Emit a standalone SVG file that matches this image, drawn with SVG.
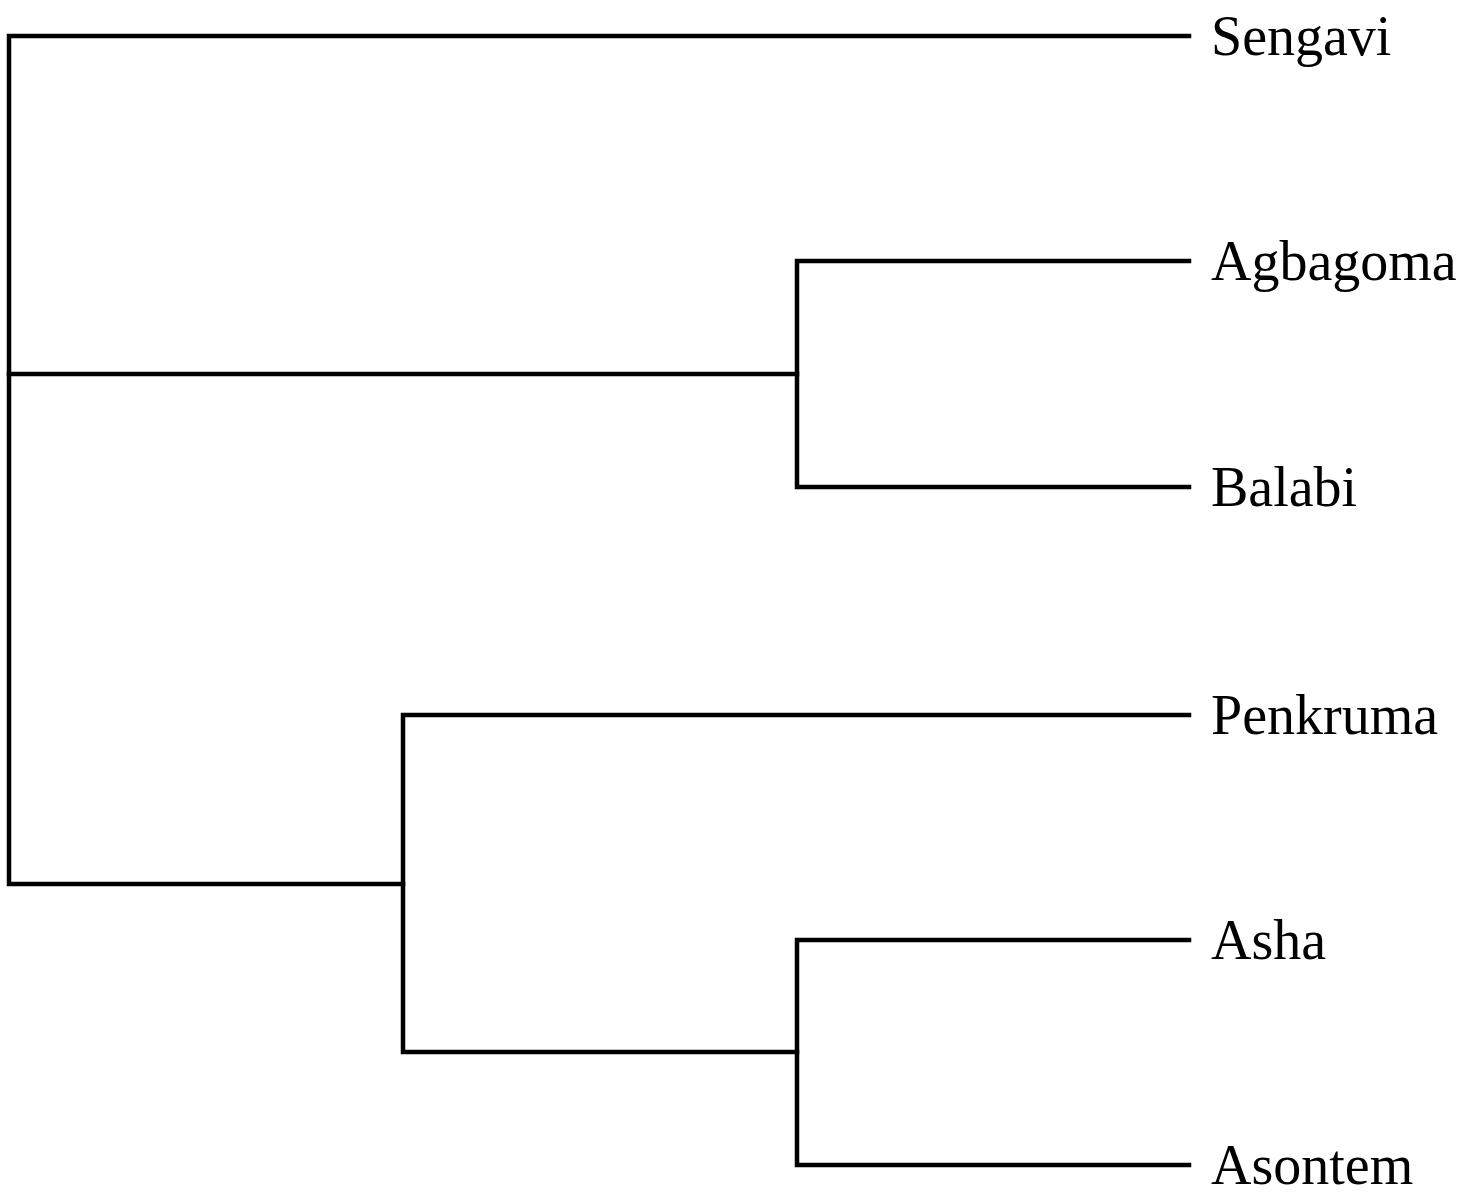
<svg xmlns="http://www.w3.org/2000/svg" width="1479" height="1194" viewBox="0 0 1479 1194">
<style>
.e{fill:none;stroke:#000;stroke-width:4.5;stroke-linecap:square;stroke-linejoin:miter}
.l{font-family:"Liberation Serif","Times New Roman",serif;font-size:56px;fill:#000}
</style>
<rect width="1479" height="1194" fill="#fff"/>
<g id="connectors">
<path class="e" d="M1189,36 H9 V884 H403"/>
<path class="e" d="M9,374 H797"/>
<path class="e" d="M1189,261 H797 V487 H1189"/>
<path class="e" d="M1189,715 H403 V1052 H797"/>
<path class="e" d="M1189,940 H797 V1165 H1189"/>
</g>
<g id="Sengavi"><text class="l" x="1211" y="55">Sengavi</text></g>
<g id="Agbagoma"><text class="l" x="1211" y="280">Agbagoma</text></g>
<g id="Balabi"><text class="l" x="1211" y="506">Balabi</text></g>
<g id="Penkruma"><text class="l" x="1211" y="734">Penkruma</text></g>
<g id="Asha"><text class="l" x="1211" y="959">Asha</text></g>
<g id="Asontem"><text class="l" x="1211" y="1184">Asontem</text></g>
</svg>
